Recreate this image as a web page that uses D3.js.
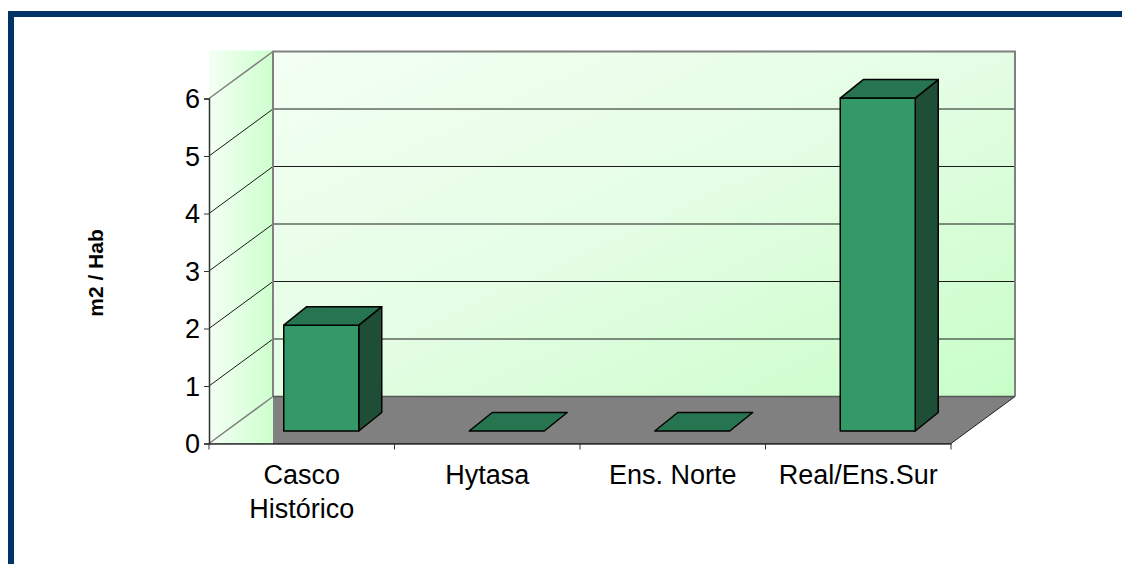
<!DOCTYPE html>
<html><head><meta charset="utf-8">
<script src="https://cdn.jsdelivr.net/npm/d3@7"></script>
<style>html,body{margin:0;padding:0;background:#fff;}svg{display:block;}</style>
</head><body>
<svg id="c" width="1122" height="564"></svg>
<script>
const categories = ["Casco Histórico", "Hytasa", "Ens. Norte", "Real/Ens.Sur"];
const categoryLines = [["Casco", "Histórico"], ["Hytasa"], ["Ens. Norte"], ["Real/Ens.Sur"]];
const values = [1.84, 0, 0, 5.79];
const yTicks = [0, 1, 2, 3, 4, 5, 6];
const yTitle = "m2 / Hab";

const svg = d3.select("#c");
const FONT = "'Liberation Sans', Arial, sans-serif";

// geometry
const X0 = 209, X1 = 951, Y0 = 443.5, Y6 = 98.5;
const DX = 64, DY = -47;          // depth of the plot box
const BW = 75, BOFX = 19.5, BOFY = 12.5, BDX = 23, BDY = -18.5;

const x = d3.scaleBand().domain(categories).range([X0, X1]).padding(0);
const y = d3.scaleLinear().domain([0, 6]).range([Y0, Y6]);

const defs = svg.append("defs");
const gBack = defs.append("linearGradient").attr("id", "gBack")
  .attr("x1", "0").attr("y1", "0").attr("x2", "1").attr("y2", "1");
gBack.append("stop").attr("offset", "0").attr("stop-color", "#f3fff3");
gBack.append("stop").attr("offset", "0.5").attr("stop-color", "#e4fde4");
gBack.append("stop").attr("offset", "1").attr("stop-color", "#c8fec8");
const gSide = defs.append("linearGradient").attr("id", "gSide")
  .attr("x1", "0").attr("y1", "0").attr("x2", "1").attr("y2", "0");
gSide.append("stop").attr("offset", "0").attr("stop-color", "#f4fff4");
gSide.append("stop").attr("offset", "1").attr("stop-color", "#ceffce");

// frame
svg.append("rect").attr("x", 8).attr("y", 11).attr("width", 1114).attr("height", 6).attr("fill", "#003366");
svg.append("rect").attr("x", 8).attr("y", 11).attr("width", 6).attr("height", 553).attr("fill", "#003366");

const bx0 = X0 + DX, bx1 = X1 + DX;
const byTop = y(6) + DY, byBot = y(0) + DY;

// floor
svg.append("polygon")
  .attr("points", [[X0, y(0)], [bx0, byBot], [bx1, byBot], [X1, y(0)]].map(p => p.join(",")).join(" "))
  .attr("fill", "#808080").attr("stroke", "#222").attr("stroke-width", 1);

// back wall
svg.append("rect").attr("x", bx0).attr("y", byTop).attr("width", bx1 - bx0).attr("height", byBot - byTop)
  .attr("fill", "url(#gBack)");
// side wall (bounding fill)
svg.append("rect").attr("x", X0).attr("y", byTop - 1).attr("width", DX).attr("height", y(0) - byTop + 1)
  .attr("fill", "url(#gSide)");

// gridlines
yTicks.forEach(t => {
  const inner = t > 0 && t < 6;
  const col = inner ? "#1a1a1a" : "#808080";
  svg.append("line").attr("x1", X0).attr("y1", y(t)).attr("x2", bx0).attr("y2", y(t) + DY)
    .attr("stroke", col).attr("stroke-width", inner ? 1 : 1.5);
  if (inner) {
    svg.append("line").attr("x1", bx0).attr("y1", y(t) + DY).attr("x2", bx1).attr("y2", y(t) + DY)
      .attr("stroke", "#1a1a1a").attr("stroke-width", 1);
  }
});
// back wall borders
svg.append("path")
  .attr("d", `M${bx0},${byBot}V${byTop}H${bx1}V${byBot}`)
  .attr("fill", "none").attr("stroke", "#808080").attr("stroke-width", 2);
svg.append("line").attr("x1", bx0).attr("y1", byBot).attr("x2", bx1).attr("y2", byBot)
  .attr("stroke", "#555").attr("stroke-width", 1.5);

// axes
const ya = svg.append("g").attr("transform", `translate(${X0},0)`)
  .call(d3.axisLeft(y).tickValues(yTicks).tickSize(5).tickPadding(4).tickFormat(d3.format("d")));
ya.select(".domain").attr("stroke", "#333").attr("stroke-width", 1.5);
ya.selectAll(".tick line").attr("stroke", "#333");
ya.selectAll("text").attr("font-family", FONT).attr("font-size", 27).attr("fill", "#000").attr("dy", "0.35em");

const xa = svg.append("g").attr("transform", `translate(0,${Y0})`)
  .call(d3.axisBottom(x).tickSize(0).tickFormat(""));
xa.select(".domain").attr("stroke", "#333").attr("stroke-width", 1.5);
xa.selectAll(".tick").remove();
const bounds = categories.map(c => x(c)).concat([X1]);
xa.selectAll("line.tk").data(bounds).enter().append("line").attr("class", "tk")
  .attr("x1", d => d).attr("x2", d => d).attr("y1", 0).attr("y2", 6)
  .attr("stroke", "#333").attr("stroke-width", 1);

// category labels
categories.forEach((c, i) => {
  const t = svg.append("text").attr("x", x(c) + x.bandwidth() / 2).attr("y", 484)
    .attr("text-anchor", "middle").attr("font-family", FONT).attr("font-size", 27).attr("fill", "#000");
  categoryLines[i].forEach((ln, j) => {
    t.append("tspan").attr("x", x(c) + x.bandwidth() / 2).attr("dy", j === 0 ? 0 : 34).text(ln);
  });
});

// y title
svg.append("text").attr("transform", "translate(102.5,273) rotate(-90)")
  .attr("text-anchor", "middle").attr("font-family", FONT).attr("font-size", 21)
  .attr("font-weight", "bold").attr("fill", "#000").text(yTitle);

// bars
const bars = svg.append("g");
categories.forEach((c, i) => {
  const v = values[i];
  const fx = x(c) + x.bandwidth() / 2 + BOFX - BW / 2;
  const base = y(0) - BOFY;
  const top = y(v) - BOFY;
  const g = bars.append("g").attr("stroke", "#000").attr("stroke-width", 1.5).attr("stroke-linejoin", "round");
  const pts = a => a.map(p => p.join(",")).join(" ");
  if (v > 0) {
    g.append("polygon").attr("points", pts([[fx + BW, top], [fx + BW + BDX, top + BDY], [fx + BW + BDX, base + BDY], [fx + BW, base]]))
      .attr("fill", "#1f4e36");
    g.append("rect").attr("x", fx).attr("y", top).attr("width", BW).attr("height", base - top).attr("fill", "#339966");
  }
  g.append("polygon").attr("points", pts([[fx, top], [fx + BDX, top + BDY], [fx + BW + BDX, top + BDY], [fx + BW, top]]))
    .attr("fill", "#277550");
});
</script>
</body></html>
